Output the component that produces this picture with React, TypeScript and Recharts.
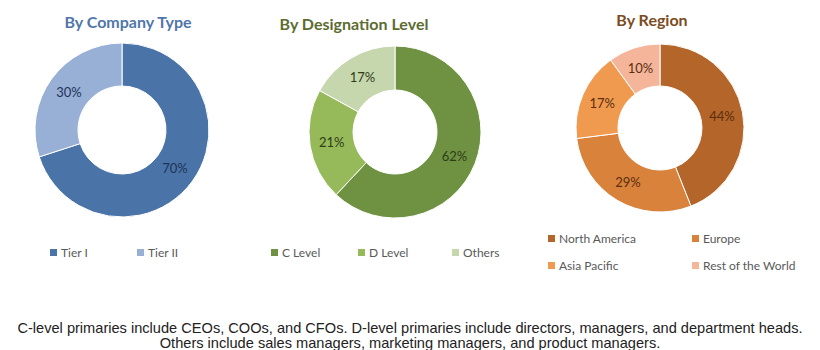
import React from 'react';
import { PieChart, Pie, Cell } from 'recharts';

const companyTypes = ['Tier I', 'Tier II'];
const companyValues = [70, 30];
const companyColors = ['#4a73a8', '#98afd6'];

const designationLevels = ['C Level', 'D Level', 'Others'];
const designationValues = [62, 21, 17];
const designationColors = ['#6e9142', '#96b95a', '#c6d7ae'];

const regions = ['North America', 'Europe', 'Asia Pacific', 'Rest of the World'];
const regionValues = [44, 29, 17, 10];
const regionColors = ['#b4652a', '#d9823c', '#f09a50', '#f5b59a'];

const footerLines = [
  'C-level primaries include CEOs, COOs, and CFOs. D-level primaries include directors, managers, and department heads.',
  'Others include sales managers, marketing managers, and product managers.',
];

const RAD = Math.PI / 180;

function makeLabel(color: string) {
  return (props: any) => {
    const { cx, cy, midAngle, innerRadius, outerRadius, value } = props;
    const r = (innerRadius + outerRadius) / 2;
    const x = cx + r * Math.cos(-midAngle * RAD);
    const y = cy + r * Math.sin(-midAngle * RAD);
    return (
      <text x={x} y={y} fill={color} textAnchor="middle" dominantBaseline="central"
        style={{ fontFamily: 'Lato, sans-serif', fontSize: 13 }}>
        {`${value}%`}
      </text>
    );
  };
}

type Panel = {
  left: number;
  title: string;
  titleColor: string;
  titleX: number;
  titleY: number;
  names: string[];
  values: number[];
  colors: string[];
  labelColor: string;
  cx: number;
  cy: number;
  inner: number;
  outer: number;
  legend: { x: number; y: number }[];
};

const panels: Panel[] = [
  {
    left: 0, title: 'By Company Type', titleColor: '#4f76ab', titleX: 128, titleY: 22,
    names: companyTypes, values: companyValues, colors: companyColors, labelColor: '#1e3357',
    cx: 122, cy: 130, inner: 44, outer: 87,
    legend: [{ x: 50, y: 252 }, { x: 137, y: 252 }],
  },
  {
    left: 273, title: 'By Designation Level', titleColor: '#5c6c30', titleX: 354 - 273, titleY: 24,
    names: designationLevels, values: designationValues, colors: designationColors, labelColor: '#2e3d16',
    cx: 395 - 273, cy: 132, inner: 42, outer: 86,
    legend: [{ x: 271 - 273, y: 252 }, { x: 358 - 273, y: 252 }, { x: 452 - 273, y: 252 }],
  },
  {
    left: 546, title: 'By Region', titleColor: '#7b4c22', titleX: 652 - 546, titleY: 20,
    names: regions, values: regionValues, colors: regionColors, labelColor: '#5a2e0e',
    cx: 660 - 546, cy: 128, inner: 42, outer: 84,
    legend: [{ x: 548 - 546, y: 238 }, { x: 692 - 546, y: 238 }, { x: 548 - 546, y: 265 }, { x: 692 - 546, y: 265 }],
  },
];

function PanelView({ p }: { p: Panel }) {
  const data = p.names.map((n, i) => ({ name: n, value: p.values[i] }));
  return (
    <div style={{ position: 'absolute', left: p.left, top: 0, width: 274, height: 290 }}>
      <div style={{
        position: 'absolute', left: p.titleX - 120, top: p.titleY - 11, width: 240, textAlign: 'center',
        fontFamily: 'Lato, sans-serif', fontWeight: 700, fontSize: 16, color: p.titleColor, lineHeight: '22px',
      }}>{p.title}</div>
      <div style={{ position: 'absolute', left: 0, top: 0 }}>
        <PieChart width={274} height={230} margin={{ top: 0, right: 0, bottom: 0, left: 0 }}>
          <Pie data={data} dataKey="value" nameKey="name" cx={p.cx} cy={p.cy}
            innerRadius={p.inner} outerRadius={p.outer} startAngle={90} endAngle={-270}
            stroke="#ffffff" strokeWidth={1} isAnimationActive={false}
            label={makeLabel(p.labelColor)} labelLine={false}>
            {data.map((d, i) => <Cell key={d.name} fill={p.colors[i]} />)}
          </Pie>
        </PieChart>
      </div>
      {data.map((d, i) => (
        <div key={d.name} style={{
          position: 'absolute', left: p.legend[i].x, top: p.legend[i].y - 8, height: 16,
          display: 'flex', alignItems: 'center', whiteSpace: 'nowrap',
          fontFamily: 'Lato, sans-serif', fontSize: 12, color: '#595959',
        }}>
          <span style={{ display: 'inline-block', width: 7, height: 7, background: p.colors[i], marginRight: 4 }} />
          {d.name}
        </div>
      ))}
    </div>
  );
}

export default function App() {
  return (
    <div style={{ position: 'absolute', left: 0, top: 0, width: 820, height: 350, background: '#fff', overflow: 'hidden' }}>
      {panels.map((p) => <PanelView key={p.title} p={p} />)}
      <div style={{
        position: 'absolute', left: 0, top: 321, width: 820, textAlign: 'center',
        fontFamily: '"Liberation Sans", Arial, sans-serif', fontSize: 14.6, color: '#222', lineHeight: '15px',
        whiteSpace: 'nowrap',
      }}>
        {footerLines.map((l) => <div key={l}>{l}</div>)}
      </div>
    </div>
  );
}
